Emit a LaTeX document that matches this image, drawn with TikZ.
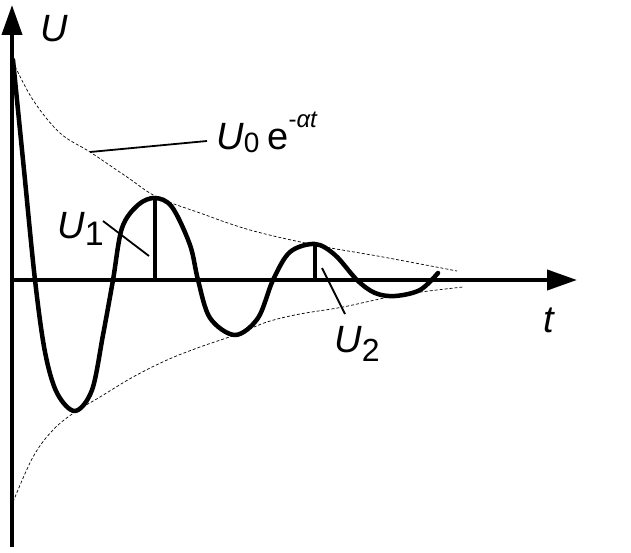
\documentclass[tikz,border=0pt]{standalone}
\usepackage{fontspec}
\setmainfont{Liberation Sans}
\usetikzlibrary{arrows.meta}
\begin{document}
\begin{tikzpicture}[x=1pt,y=-1pt,
 axis/.style={line width=4pt, -{Triangle[length=30pt,width=20pt]}},
 wave/.style={line width=4.5pt, line join=round, line cap=round},
 env/.style={line width=0.7pt, dash pattern=on 3pt off 2pt},
 leader/.style={line width=1.8pt},
 marker/.style={line width=3.5pt},
 lbl/.style={inner sep=0pt, anchor=base west, font=\fontsize{38}{40}\selectfont}]
\useasboundingbox (0,0) rectangle (631,553);
% axes
\coordinate (O) at (10,280);
\coordinate (Ytop) at (12,5);
\coordinate (Ybot) at (12,547);
\coordinate (Xend) at (577,280);
\draw[axis] (Ybot) -- (Ytop);
\draw[axis] (O) -- (Xend);
% envelopes
\draw[env] plot[smooth, tension=0.6] coordinates {(13,62) (33,100) (60,133) (90,152) (127,177) (157,197) (200,213) (250,230) (315,245) (383,257) (457,271)};
\draw[env] plot[smooth, tension=0.6] coordinates {(13,502) (33,457) (53,430) (75,412) (100,397) (133,377) (167,360) (200,347) (235,335) (267,322) (300,314) (343,307) (400,295) (463,287)};
% damped wave
\draw[wave] plot[smooth, tension=0.55] coordinates {(13,60) (24,170) (35,280) (45,352) (57,393) (75,411) (92,390) (103,335) (113,280) (122,228) (138,205) (155,198) (172,207) (190,245) (198,280) (210,318) (235,335) (258,318) (273,280) (290,252) (315,244) (335,255) (357,280) (375,293) (395,296) (420,290) (438,273)};
% amplitude markers
\coordinate (P1) at (155,199);
\coordinate (P1b) at (155,280);
\coordinate (P2) at (315,245);
\coordinate (P2b) at (315,280);
\draw[marker] (P1) -- (P1b);
\draw[marker] (P2) -- (P2b);
% labels
\node[lbl] (lU) at (40,42) {\textit{U}};
\node[lbl] (lt) at (543,332) {\textit{t}};
\node[lbl] (lU0) at (216,150) {\textit{U}\raisebox{-3pt}{\fontsize{28}{28}\selectfont 0}\hspace{8pt}e\raisebox{22pt}{\fontsize{24}{24}\selectfont -\textit{αt}}};
\node[lbl] (lU1) at (57,238) {\textit{U}\raisebox{-7pt}{\fontsize{34}{34}\selectfont 1}};
\node[lbl] (lU2) at (334,352) {\textit{U}\raisebox{-9pt}{\fontsize{32}{32}\selectfont 2}};
% leaders
\coordinate (E0) at (90,152);
\coordinate (L0) at (207,141);
\coordinate (E1) at (149,256);
\coordinate (L1) at (103,221);
\coordinate (E2) at (322,268);
\coordinate (L2) at (345,314);
\draw[leader] (L0) -- (E0);
\draw[leader] (L1) -- (E1);
\draw[leader] (L2) -- (E2);
\end{tikzpicture}
\end{document}
